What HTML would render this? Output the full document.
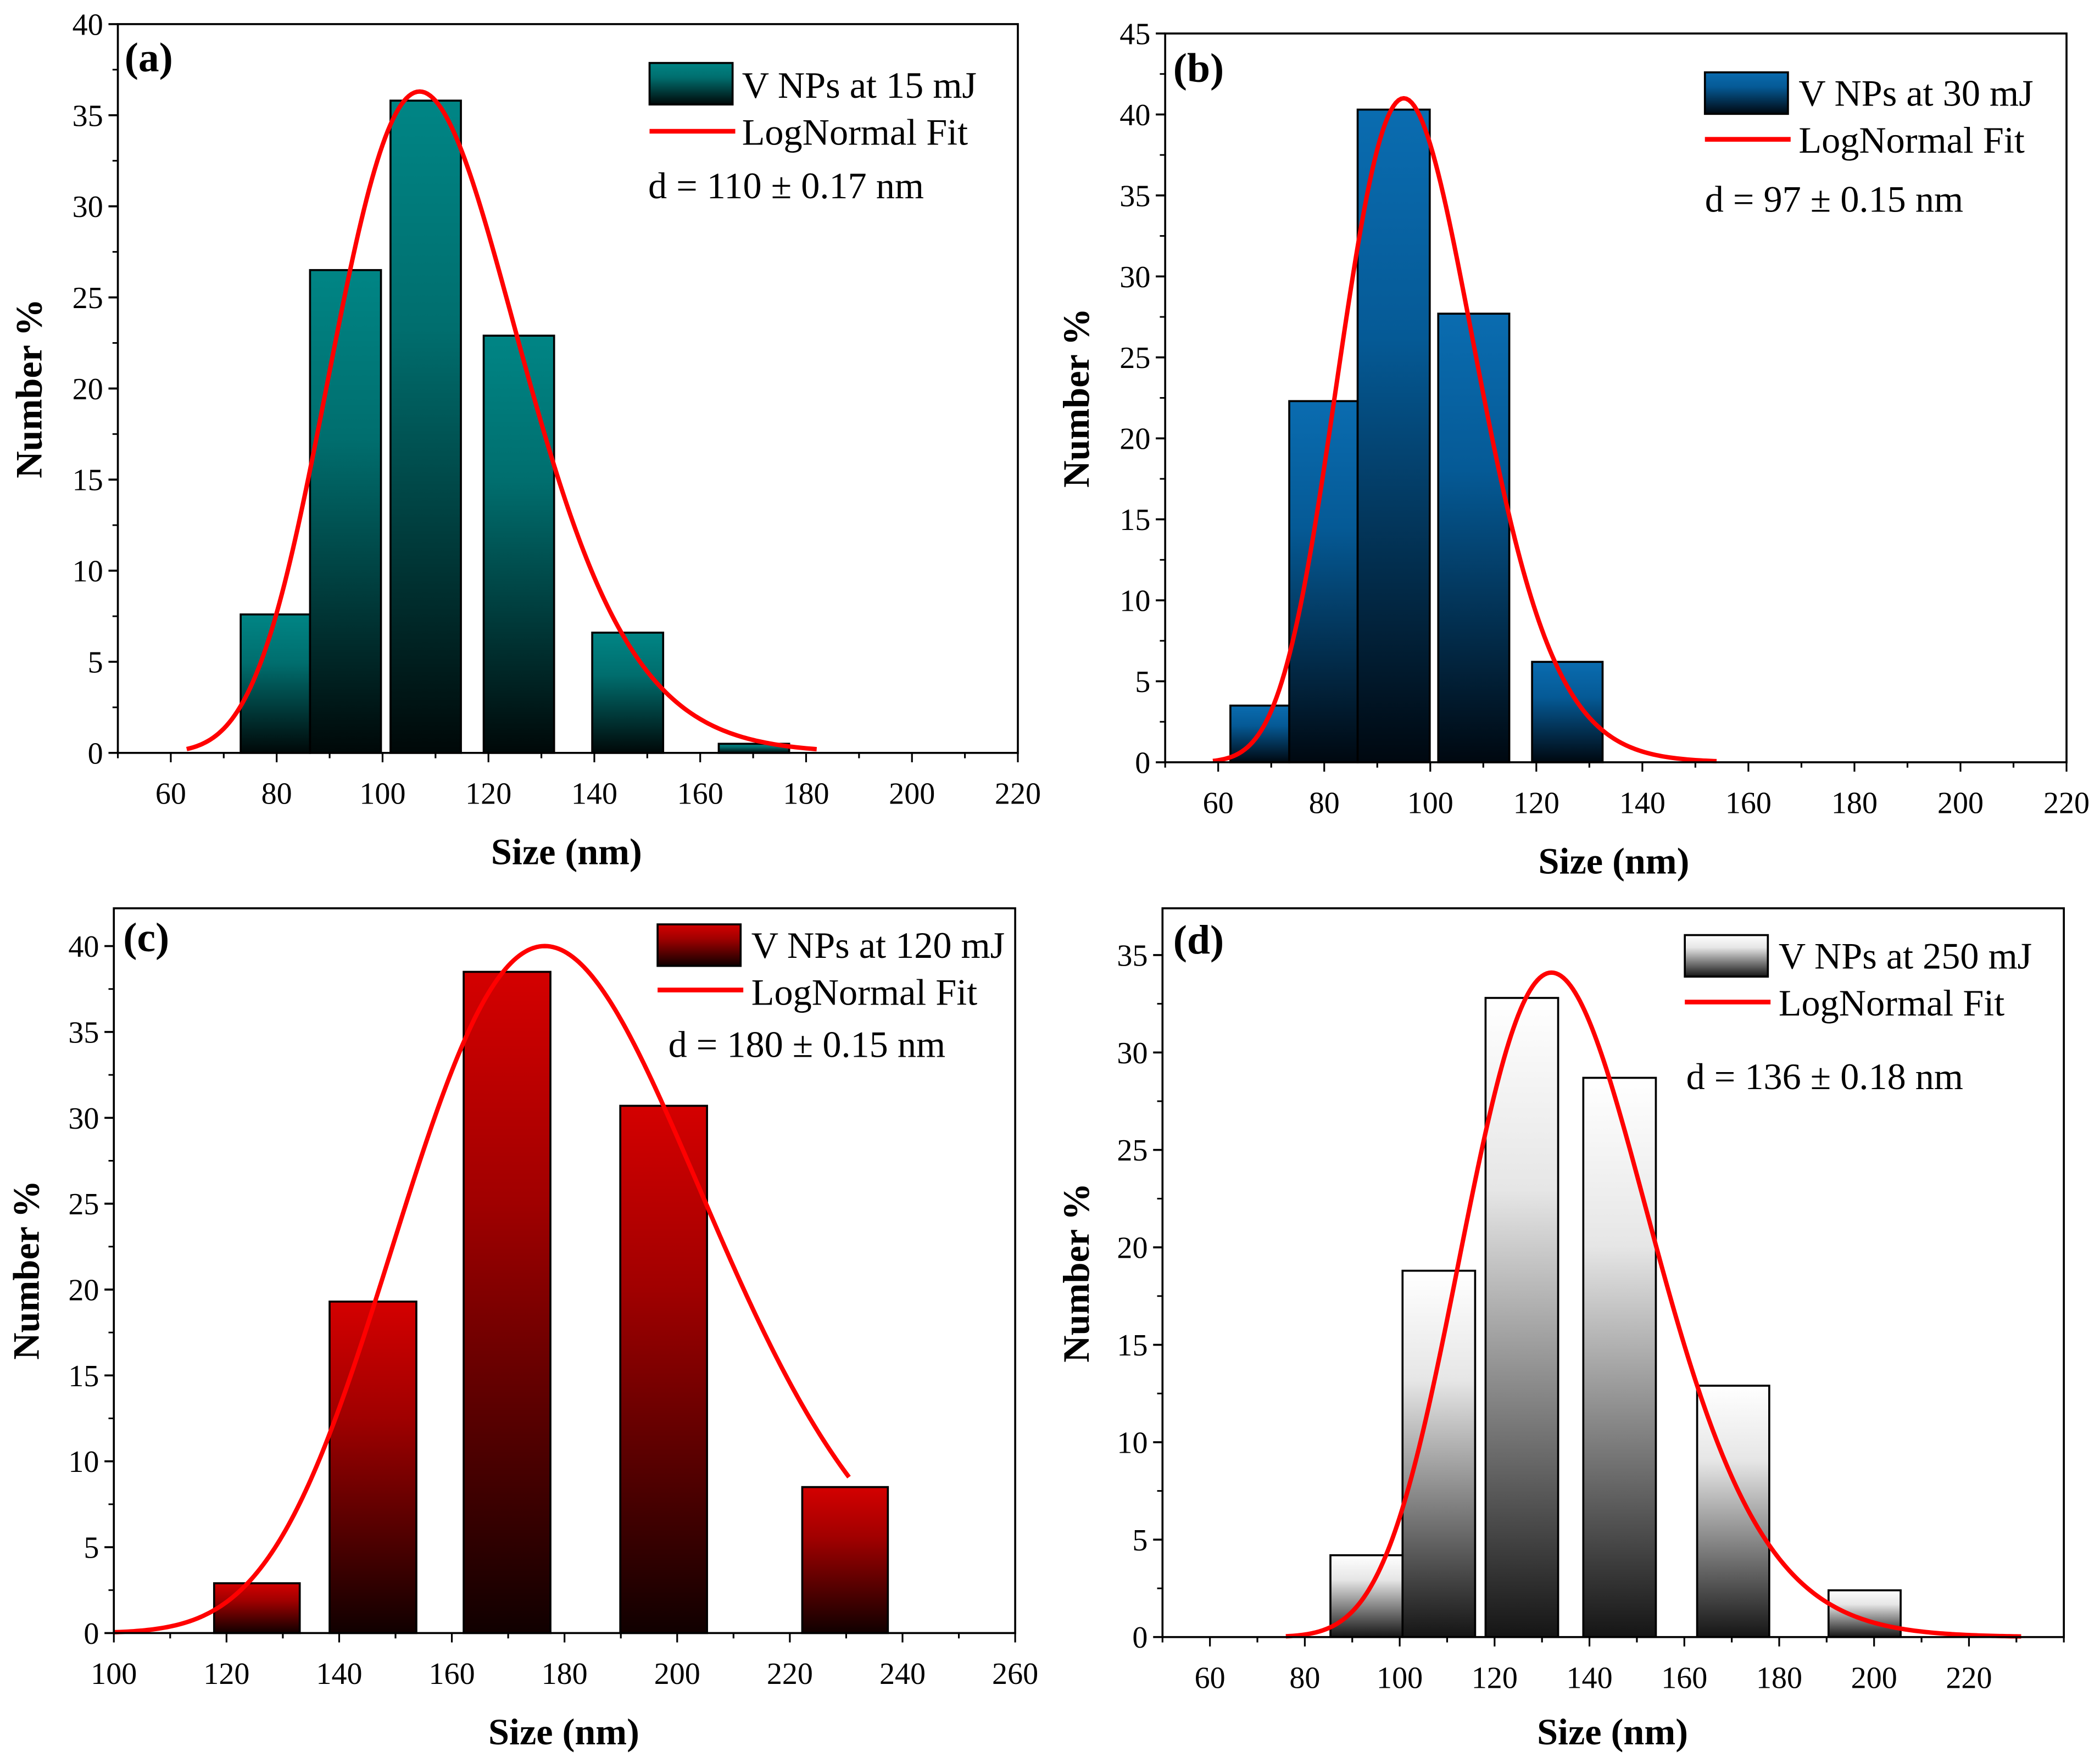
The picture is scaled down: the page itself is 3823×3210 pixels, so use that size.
<!DOCTYPE html>
<html><head><meta charset="utf-8">
<style>
html,body{margin:0;padding:0;background:#fff;}
svg{display:block;}
svg text{font-family:"Liberation Serif","Times New Roman",serif;}
</style></head>
<body>
<svg id="fig" xmlns="http://www.w3.org/2000/svg" width="3823" height="3210" viewBox="0 0 1568 1316" preserveAspectRatio="none" font-family="Liberation Serif, Times New Roman, serif">
<defs>
<linearGradient id="gA" x1="0" y1="0" x2="0" y2="1"><stop offset="0" stop-color="#008585"/><stop offset="0.35" stop-color="#006e6e"/><stop offset="1" stop-color="#000808"/></linearGradient>
<linearGradient id="gB" x1="0" y1="0" x2="0" y2="1"><stop offset="0" stop-color="#0a6cb0"/><stop offset="0.35" stop-color="#055a96"/><stop offset="1" stop-color="#000810"/></linearGradient>
<linearGradient id="gC" x1="0" y1="0" x2="0" y2="1"><stop offset="0" stop-color="#d40000"/><stop offset="0.35" stop-color="#a00000"/><stop offset="1" stop-color="#100000"/></linearGradient>
<linearGradient id="gD" x1="0" y1="0" x2="0" y2="1"><stop offset="0" stop-color="#ffffff"/><stop offset="0.3" stop-color="#e6e6e6"/><stop offset="1" stop-color="#151515"/></linearGradient>
</defs>
</svg>
<script>
// Panel (a) data
const aBinStart=[73.2,86.3,101.5,119.1,139.6,163.5];
const aBinEnd=[86.3,99.7,114.8,132.4,153.0,176.8];
const aCounts=[7.6,26.5,35.8,22.9,6.6,0.5];
const aFitParams=[107,0.165,36.3];
const aFitRange=[63,182];
const aXTicks=[60,80,100,120,140,160,180,200,220];
const aYTicks=[0,5,10,15,20,25,30,35,40];
// Panel (b) data
const bBinStart=[62.3,73.4,86.3,101.5,119.2];
const bBinEnd=[73.4,86.3,99.9,114.9,132.5];
const bCounts=[3.5,22.3,40.3,27.7,6.2];
const bFitParams=[95,0.135,41];
const bFitRange=[59,154];
const bXTicks=[60,80,100,120,140,160,180,200,220];
const bYTicks=[0,5,10,15,20,25,30,35,40,45];
// Panel (c) data
const cBinStart=[117.8,138.3,162.1,189.9,222.2];
const cBinEnd=[133.0,153.7,177.5,205.3,237.4];
const cCounts=[2.9,19.3,38.5,30.7,8.5];
const cFitParams=[176.5,0.155,40];
const cFitRange=[100,230.5];
const cXTicks=[100,120,140,160,180,200,220,240,260];
const cYTicks=[0,5,10,15,20,25,30,35,40];
// Panel (d) data
const dBinStart=[85.4,100.6,118.1,138.7,162.7,190.4];
const dBinEnd=[100.6,115.9,133.4,154.0,177.9,205.6];
const dCounts=[4.2,18.8,32.8,28.7,12.9,2.4];
const dFitParams=[132,0.15,34.1];
const dFitRange=[76,231];
const dXTicks=[60,80,100,120,140,160,180,200,220];
const dYTicks=[0,5,10,15,20,25,30,35];

const NS="http://www.w3.org/2000/svg";
const svg=document.getElementById('fig');
function mk(tag,attrs,parent,txt){const e=document.createElementNS(NS,tag);for(const k in attrs)e.setAttribute(k,attrs[k]);if(txt!==undefined){e.textContent=txt;e.setAttribute('font-family','Liberation Serif, Times New Roman, serif');}(parent||svg).appendChild(e);return e;}

const panels=[
 {id:'a',L:88,R:760,T:18,B:562,xmin:50,xmax:220,ymax:40,grad:'gA',start:aBinStart,end:aBinEnd,vals:aCounts,fit:aFitParams,range:aFitRange,xt:aXTicks,yt:aYTicks,xminor:10,
  label:[93,53],sw:[485,47],lt:[554,73],line:98,lt2:108,dpos:[484,148],legend:'V NPs at 15 mJ',d:'d = 110 ± 0.17 nm',ytitle:[22,290],xtitle:[423,645]},
 {id:'b',L:870,R:1543,T:25,B:569,xmin:50,xmax:220,ymax:45,grad:'gB',start:bBinStart,end:bBinEnd,vals:bCounts,fit:bFitParams,range:bFitRange,xt:bXTicks,yt:bYTicks,xminor:10,
  label:[876,61],sw:[1273,54],lt:[1343,79],line:104,lt2:114,dpos:[1273,158],legend:'V NPs at 30 mJ',d:'d = 97 ± 0.15 nm',ytitle:[804,297],xtitle:[1205,652]},
 {id:'c',L:85,R:758,T:678,B:1219,xmin:100,xmax:260,ymax:42.2,grad:'gC',start:cBinStart,end:cBinEnd,vals:cCounts,fit:cFitParams,range:cFitRange,xt:cXTicks,yt:cYTicks,xminor:10,
  label:[92,710],sw:[491,690],lt:[561,715],line:739,lt2:750,dpos:[499,789],legend:'V NPs at 120 mJ',d:'d = 180 ± 0.15 nm',ytitle:[20,948],xtitle:[421,1302]},
 {id:'d',L:868,R:1541,T:678,B:1222,xmin:50,xmax:240,ymax:37.4,grad:'gD',start:dBinStart,end:dBinEnd,vals:dCounts,fit:dFitParams,range:dFitRange,xt:dXTicks,yt:dYTicks,xminor:10,
  label:[876,712],sw:[1258,698],lt:[1328,723],line:748,lt2:758,dpos:[1259,813],legend:'V NPs at 250 mJ',d:'d = 136 ± 0.18 nm',ytitle:[804,950],xtitle:[1204,1302]}
];

panels.forEach(p=>{
  const g=mk('g',{});
  
  
  const xs=v=>p.L+(v-p.xmin)/(p.xmax-p.xmin)*(p.R-p.L);
  const ys=v=>p.B-v/p.ymax*(p.B-p.T);
  for(let i=0;i<p.vals.length;i++){
    const r=mk('rect',{x:xs(p.start[i]),y:ys(p.vals[i]),width:xs(p.end[i])-xs(p.start[i]),height:p.B-ys(p.vals[i]),fill:'url(#'+p.grad+')',stroke:'#000','stroke-width':1.5},g);
    
    
  }
  const [c,w,A]=p.fit;let pts=[];
  for(let x=p.range[0];x<=p.range[1]+1e-6;x+=0.5){const l=Math.log(x/c);pts.push(xs(x).toFixed(2)+','+ys(A*Math.exp(-l*l/(2*w*w))).toFixed(2));}
  const fl=mk('polyline',{points:pts.join(' '),fill:'none',stroke:'#f00','stroke-width':3.3,'stroke-linejoin':'round'},g);
  
  
  const fr=mk('rect',{x:p.L,y:p.T,width:p.R-p.L,height:p.B-p.T,fill:'none',stroke:'#000','stroke-width':1.5},g);
  
  
  const yax=mk('g',{},g);
  
  
  p.yt.forEach((v,i)=>{
    mk('line',{x1:p.L-7,x2:p.L,y1:ys(v),y2:ys(v),stroke:'#000','stroke-width':1.5},yax);
    const t=mk('text',{x:p.L-11,y:ys(v)+8,'font-size':23,'text-anchor':'end'},yax,String(v));
    
    
    const m=v+2.5;if(m<p.ymax)mk('line',{x1:p.L-4,x2:p.L,y1:ys(m),y2:ys(m),stroke:'#000','stroke-width':1.2},yax);
  });
  const xax=mk('g',{},g);
  
  
  for(let v=p.xmin;v<=p.xmax+1e-6;v+=p.xminor){
    const major=p.xt.indexOf(v)>=0;
    mk('line',{x1:xs(v),x2:xs(v),y1:p.B,y2:p.B+(major?7:4),stroke:'#000','stroke-width':1.3},xax);
  }
  p.xt.forEach(v=>{
    const t=mk('text',{x:xs(v),y:p.B+38,'font-size':23,'text-anchor':'middle'},xax,String(v));
    
    
  });
  const yt=mk('text',{x:p.ytitle[0],y:p.ytitle[1],'font-size':28,'font-weight':'bold','text-anchor':'middle',transform:'rotate(-90 '+p.ytitle[0]+' '+p.ytitle[1]+')',dy:9},g,'Number %');
  
  
  const xt=mk('text',{x:p.xtitle[0],y:p.xtitle[1],'font-size':28,'font-weight':'bold','text-anchor':'middle'},g,'Size (nm)');
  
  
  const pl=mk('text',{x:p.label[0],y:p.label[1],'font-size':31,'font-weight':'bold'},g,'('+p.id+')');
  
  
  const lg=mk('g',{},g);
  
  
  mk('rect',{x:p.sw[0],y:p.sw[1],width:62,height:31,fill:'url(#'+p.grad+')',stroke:'#000','stroke-width':1.5},lg);
  const l1=mk('text',{x:p.lt[0],y:p.lt[1],'font-size':28},lg,p.legend);
  
  
  mk('line',{x1:p.sw[0],x2:p.sw[0]+64,y1:p.line,y2:p.line,stroke:'#f00','stroke-width':3.5},lg);
  const l2=mk('text',{x:p.lt[0],y:p.lt2,'font-size':28},lg,'LogNormal Fit');
  
  
  const dt=mk('text',{x:p.dpos[0],y:p.dpos[1],'font-size':28},g,p.d);
  
  
});
</script>
</body></html>
